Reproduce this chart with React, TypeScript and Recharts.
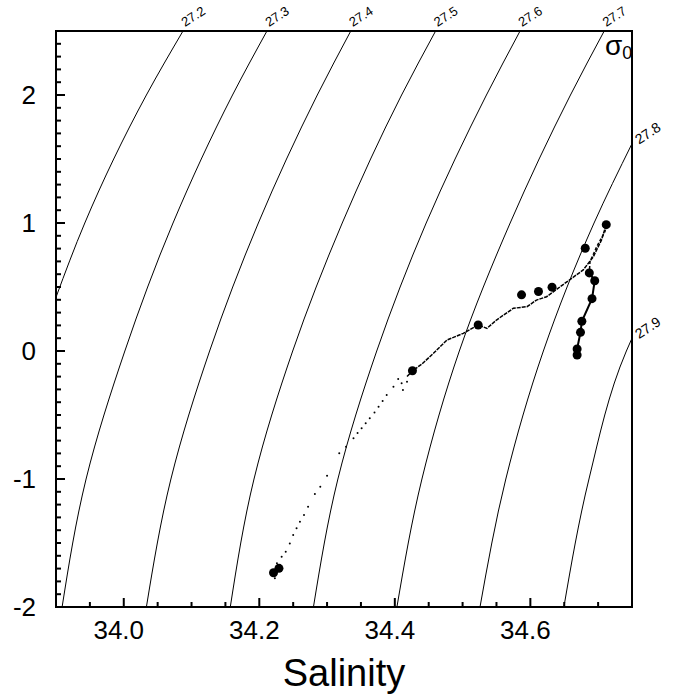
import React from "react";
import { ComposedChart, XAxis, YAxis, Line, Scatter } from "recharts";

type Pt = { s: number; t: number };

// sigma-0 isopycnals, (salinity, potential temperature)
const iso272: Pt[] = [
  { s: 33.9, t: 0.42 },
  { s: 33.9425, t: 1 },
  { s: 34.0334, t: 2 },
  { s: 34.0874, t: 2.5 },
];
const iso273: Pt[] = [
  { s: 33.909, t: -2 },
  { s: 33.9444, t: -1 },
  { s: 34.0016, t: 0 },
  { s: 34.0727, t: 1 },
  { s: 34.1605, t: 2 },
  { s: 34.2113, t: 2.5 },
];
const iso274: Pt[] = [
  { s: 34.0334, t: -2 },
  { s: 34.0696, t: -1 },
  { s: 34.1267, t: 0 },
  { s: 34.1986, t: 1 },
  { s: 34.2856, t: 2 },
  { s: 34.335, t: 2.5 },
];
const iso275: Pt[] = [
  { s: 34.1572, t: -2 },
  { s: 34.1922, t: -1 },
  { s: 34.2493, t: 0 },
  { s: 34.3224, t: 1 },
  { s: 34.41, t: 2 },
  { s: 34.4602, t: 2.5 },
];
const iso276: Pt[] = [
  { s: 34.2799, t: -2 },
  { s: 34.316, t: -1 },
  { s: 34.3733, t: 0 },
  { s: 34.4463, t: 1 },
  { s: 34.5352, t: 2 },
  { s: 34.5848, t: 2.5 },
];
const iso277: Pt[] = [
  { s: 34.4031, t: -2 },
  { s: 34.44, t: -1 },
  { s: 34.4952, t: 0 },
  { s: 34.5702, t: 1 },
  { s: 34.6592, t: 2 },
  { s: 34.709, t: 2.5 },
];
const iso278: Pt[] = [
  { s: 34.5257, t: -2 },
  { s: 34.5638, t: -1 },
  { s: 34.6192, t: 0 },
  { s: 34.694, t: 1 },
  { s: 34.75, t: 1.62 },
];
const iso279: Pt[] = [
  { s: 34.6495, t: -2 },
  { s: 34.6865, t: -1 },
  { s: 34.7417, t: 0 },
  { s: 34.75, t: 0.1 },
];

const isoLevels = ["27.2", "27.3", "27.4", "27.5", "27.6", "27.7", "27.8", "27.9"];
const isopycnals = [iso272, iso273, iso274, iso275, iso276, iso277, iso278, iso279];

// bottle samples (big dots)
const bottles: Pt[] = [
  { s: 34.221, t: -1.732 },
  { s: 34.229, t: -1.698 },
  { s: 34.426, t: -0.154 },
  { s: 34.523, t: 0.203 },
  { s: 34.587, t: 0.439 },
  { s: 34.612, t: 0.465 },
  { s: 34.632, t: 0.499 },
  { s: 34.681, t: 0.803 },
  { s: 34.712, t: 0.987 },
  { s: 34.687, t: 0.61 },
  { s: 34.695, t: 0.549 },
  { s: 34.691, t: 0.409 },
  { s: 34.676, t: 0.232 },
  { s: 34.674, t: 0.146 },
  { s: 34.669, t: 0.016 },
  { s: 34.669, t: -0.031 },
];

// CTD trace, sparse deep part (small dots)
const ctdDeep: Pt[] = [
  { s: 34.223, t: -1.776 },
  { s: 34.226, t: -1.659 },
  { s: 34.233, t: -1.607 },
  { s: 34.239, t: -1.568 },
  { s: 34.245, t: -1.503 },
  { s: 34.25, t: -1.438 },
  { s: 34.255, t: -1.385 },
  { s: 34.26, t: -1.334 },
  { s: 34.266, t: -1.281 },
  { s: 34.272, t: -1.216 },
  { s: 34.282, t: -1.117 },
  { s: 34.29, t: -1.06 },
  { s: 34.3, t: -0.974 },
  { s: 34.318, t: -0.799 },
  { s: 34.328, t: -0.748 },
  { s: 34.339, t: -0.682 },
  { s: 34.345, t: -0.64 },
  { s: 34.351, t: -0.604 },
  { s: 34.357, t: -0.565 },
  { s: 34.363, t: -0.526 },
  { s: 34.37, t: -0.48 },
  { s: 34.376, t: -0.435 },
  { s: 34.382, t: -0.39 },
  { s: 34.388, t: -0.344 },
  { s: 34.398, t: -0.279 },
  { s: 34.405, t: -0.219 },
  { s: 34.41, t: -0.252 },
  { s: 34.412, t: -0.305 },
  { s: 34.418, t: -0.24 },
];

// CTD trace, dense upper part
const ctdUpper: Pt[] = [
  { s: 34.418, t: -0.2 },
  { s: 34.426, t: -0.154 },
  { s: 34.44, t: -0.102 },
  { s: 34.457, t: -0.018 },
  { s: 34.477, t: 0.086 },
  { s: 34.501, t: 0.138 },
  { s: 34.523, t: 0.203 },
  { s: 34.536, t: 0.177 },
  { s: 34.55, t: 0.242 },
  { s: 34.575, t: 0.334 },
  { s: 34.595, t: 0.346 },
  { s: 34.609, t: 0.398 },
  { s: 34.624, t: 0.424 },
  { s: 34.644, t: 0.502 },
  { s: 34.661, t: 0.568 },
  { s: 34.678, t: 0.633 },
  { s: 34.693, t: 0.737 },
  { s: 34.705, t: 0.867 },
  { s: 34.712, t: 0.987 },
];

const ctdReturn: Pt[] = [
  { s: 34.712, t: 0.987 },
  { s: 34.71, t: 0.932 },
  { s: 34.698, t: 0.815 },
  { s: 34.688, t: 0.698 },
  { s: 34.687, t: 0.61 },
];

const ctdBranch: Pt[] = [
  { s: 34.687, t: 0.61 },
  { s: 34.695, t: 0.549 },
  { s: 34.691, t: 0.409 },
  { s: 34.676, t: 0.232 },
  { s: 34.674, t: 0.146 },
  { s: 34.669, t: 0.016 },
  { s: 34.669, t: -0.031 },
];

const xMajor = [34.0, 34.2, 34.4, 34.6];
const xTicks = [
  33.95, 34.0, 34.05, 34.1, 34.15, 34.2, 34.25, 34.3, 34.35, 34.4, 34.45, 34.5,
  34.55, 34.6, 34.65, 34.7,
];
const yMajor = [-2, -1, 0, 1, 2];
const yTicks = Array.from({ length: 45 }, (_, i) => Math.round((-2 + i * 0.1) * 10) / 10);

const X_DOMAIN: [number, number] = [33.9, 34.75];
const Y_DOMAIN: [number, number] = [-2, 2.5];
const FONT = "'Liberation Sans', Arial, Helvetica, sans-serif";

const isMajor = (list: number[], v: number) => list.some((m) => Math.abs(m - v) < 1e-6);

const BottomTick = (props: any) => {
  const { x, y, payload } = props;
  const major = isMajor(xMajor, payload.value);
  return (
    <g>
      <line x1={x} y1={y} x2={x} y2={y - (major ? 9 : 5)} stroke="#000" strokeWidth={2} />
      {major && (
        <text x={x - 5} y={y + 32} textAnchor="middle" fontSize={26} fill="#000" fontFamily={FONT}>
          {payload.value.toFixed(1)}
        </text>
      )}
    </g>
  );
};

const TopTick = (props: any) => {
  const { x, y, payload } = props;
  const major = isMajor(xMajor, payload.value);
  return <line x1={x} y1={y} x2={x} y2={y + (major ? 9 : 5)} stroke="#000" strokeWidth={2} />;
};

const LeftTick = (props: any) => {
  const { x, y, payload } = props;
  const major = isMajor(yMajor, payload.value);
  return (
    <g>
      <line x1={x} y1={y} x2={x + (major ? 9 : 5)} y2={y} stroke="#000" strokeWidth={2} />
      {major && (
        <text x={x - 20} y={y + 9} textAnchor="end" fontSize={26} fill="#000" fontFamily={FONT}>
          {payload.value}
        </text>
      )}
    </g>
  );
};

const RightTick = (props: any) => {
  const { x, y, payload } = props;
  const major = isMajor(yMajor, payload.value);
  return <line x1={x} y1={y} x2={x - (major ? 9 : 5)} y2={y} stroke="#000" strokeWidth={2} />;
};

const Dot = (r: number) => (p: any) => <circle cx={p.cx} cy={p.cy} r={r} fill="#000" />;

const labelAnchors = isopycnals.map((pts, i) => ({
  ...pts[pts.length - 1],
  level: isoLevels[i],
}));

const IsoLabel = (p: any) => {
  const side = p.payload.s >= 34.75 ? "right" : "top";
  const x = side === "right" ? p.cx + 7 : p.cx + 2;
  const y = side === "right" ? p.cy + 1 : p.cy - 4;
  return (
    <text
      x={x}
      y={y}
      fontSize={side === "right" ? 14 : 13}
      fill="#000"
      fontFamily={FONT}
      transform={`rotate(-33 ${x} ${y})`}
    >
      {p.payload.level}
    </text>
  );
};

const sigmaAnchor = [{ s: 34.75, t: 2.5 }];
const SigmaLabel = (p: any) => (
  <text x={p.cx - 27} y={p.cy + 24} fill="#000" fontFamily={FONT}>
    <tspan fontSize={28}>σ</tspan>
    <tspan fontSize={18} dy={4}>0</tspan>
  </text>
);

const axisLine = { stroke: "#000", strokeWidth: 2, strokeLinecap: "square" as const };

export default function App() {
  return (
    <div style={{ position: "absolute", left: 0, top: 0, background: "#fff" }}>
      <ComposedChart
        width={675}
        height={694}
        margin={{ top: 0, right: 0, bottom: 0, left: 0 }}
        style={{ fontFamily: FONT }}
      >
        <XAxis
          xAxisId="b"
          type="number"
          dataKey="s"
          orientation="bottom"
          domain={X_DOMAIN}
          ticks={xTicks}
          interval={0}
          height={87}
          tickSize={0}
          tickMargin={0}
          tickLine={false}
          axisLine={axisLine}
          tick={<BottomTick />}
          label={{
            value: "Salinity",
            position: "insideBottom",
            offset: 8,
            fontSize: 38,
            fill: "#000",
            fontFamily: FONT,
          }}
        />
        <XAxis
          xAxisId="t"
          type="number"
          dataKey="s"
          orientation="top"
          domain={X_DOMAIN}
          ticks={xTicks}
          interval={0}
          height={31}
          tickSize={0}
          tickMargin={0}
          tickLine={false}
          axisLine={axisLine}
          tick={<TopTick />}
        />
        <YAxis
          yAxisId="l"
          type="number"
          dataKey="t"
          orientation="left"
          domain={Y_DOMAIN}
          ticks={yTicks}
          interval={0}
          width={56}
          tickSize={0}
          tickMargin={0}
          tickLine={false}
          axisLine={axisLine}
          tick={<LeftTick />}
        />
        <YAxis
          yAxisId="r"
          type="number"
          dataKey="t"
          orientation="right"
          domain={Y_DOMAIN}
          ticks={yTicks}
          interval={0}
          width={43}
          tickSize={0}
          tickMargin={0}
          tickLine={false}
          axisLine={axisLine}
          tick={<RightTick />}
        />

        {isopycnals.map((pts, i) => (
          <Line
            key={isoLevels[i]}
            xAxisId="b"
            yAxisId="l"
            data={[...pts].reverse()}
            dataKey="t"
            type="monotoneY"
            stroke="#000"
            strokeWidth={1}
            dot={false}
            activeDot={false}
            isAnimationActive={false}
          />
        ))}

        <Line
          xAxisId="b"
          yAxisId="l"
          data={ctdUpper}
          dataKey="t"
          type="linear"
          stroke="#000"
          strokeWidth={1.5}
          strokeDasharray="4 1"
          dot={false}
          activeDot={false}
          isAnimationActive={false}
        />
        <Line
          xAxisId="b"
          yAxisId="l"
          data={ctdReturn}
          dataKey="t"
          type="linear"
          stroke="#000"
          strokeWidth={1.5}
          strokeDasharray="3 2"
          dot={false}
          activeDot={false}
          isAnimationActive={false}
        />
        <Line
          xAxisId="b"
          yAxisId="l"
          data={ctdBranch}
          dataKey="t"
          type="linear"
          stroke="#000"
          strokeWidth={2}
          dot={false}
          activeDot={false}
          isAnimationActive={false}
        />
        <Scatter xAxisId="b" yAxisId="l" data={ctdDeep} shape={Dot(1)} isAnimationActive={false} />
        <Scatter xAxisId="b" yAxisId="l" data={bottles} shape={Dot(4.5)} isAnimationActive={false} />
        <Scatter xAxisId="b" yAxisId="l" data={labelAnchors} shape={IsoLabel} isAnimationActive={false} />
        <Scatter xAxisId="b" yAxisId="l" data={sigmaAnchor} shape={SigmaLabel} isAnimationActive={false} />
      </ComposedChart>
    </div>
  );
}
